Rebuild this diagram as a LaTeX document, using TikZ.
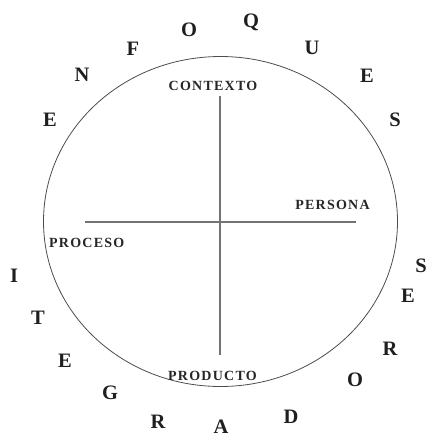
\documentclass[tikz,border=0pt]{standalone}
\usepackage{fontspec}
\setmainfont{Liberation Serif}
\begin{document}
\begin{tikzpicture}[x=1pt,y=-1pt,
  letter/.style={anchor=base,inner sep=0pt,font=\fontsize{20.5}{20.5}\selectfont\bfseries,text=black!88},
  label/.style={anchor=base,inner sep=0pt,font=\fontsize{14}{14}\selectfont\bfseries\addfontfeature{LetterSpace=9},text=black!85},
  axis/.style={draw=black!55,line width=1.1pt},
  rim/.style={draw=black!70,line width=0.8pt}]
\useasboundingbox (0,0) rectangle (426,437);
\draw[rim] (220.5,221.5) ellipse [x radius=177, y radius=165];
% axes
\coordinate (vt) at (220,96);
\coordinate (vb) at (220,355);
\coordinate (hl) at (85,222);
\coordinate (hr) at (356,222);
\draw[axis] (vt) -- (vb);
\draw[axis] (hl) -- (hr);
% labels
\node[label] (contexto) at (213,90) {CONTEXTO};
\node[label] (persona) at (332.5,209) {PERSONA};
\node[label] (proceso) at (86.7,247.5) {PROCESO};
\node[label] (producto) at (212.5,380) {PRODUCTO};
% upper arc letters
\node[letter] (l1) at (50,126) {E};
\node[letter] (l2) at (82,81) {N};
\node[letter] (l3) at (133,55) {F};
\node[letter] (l4) at (189,36.5) {O};
\node[letter] (l5) at (251,27) {Q};
\node[letter] (l6) at (312,54) {U};
\node[letter] (l7) at (367,82) {E};
\node[letter] (l8) at (395,126) {S};
% lower arc letters
\node[letter] (m1) at (421,272) {S};
\node[letter] (m2) at (408,302) {E};
\node[letter] (m3) at (390,355) {R};
\node[letter] (m4) at (355,386) {O};
\node[letter] (m5) at (291,423) {D};
\node[letter] (m6) at (221,433.5) {A};
\node[letter] (m7) at (158,428) {R};
\node[letter] (m8) at (110,399) {G};
\node[letter] (m9) at (65,367) {E};
\node[letter] (m10) at (38,324) {T};
\node[letter] (m11) at (14,282) {I};
\end{tikzpicture}
\end{document}
